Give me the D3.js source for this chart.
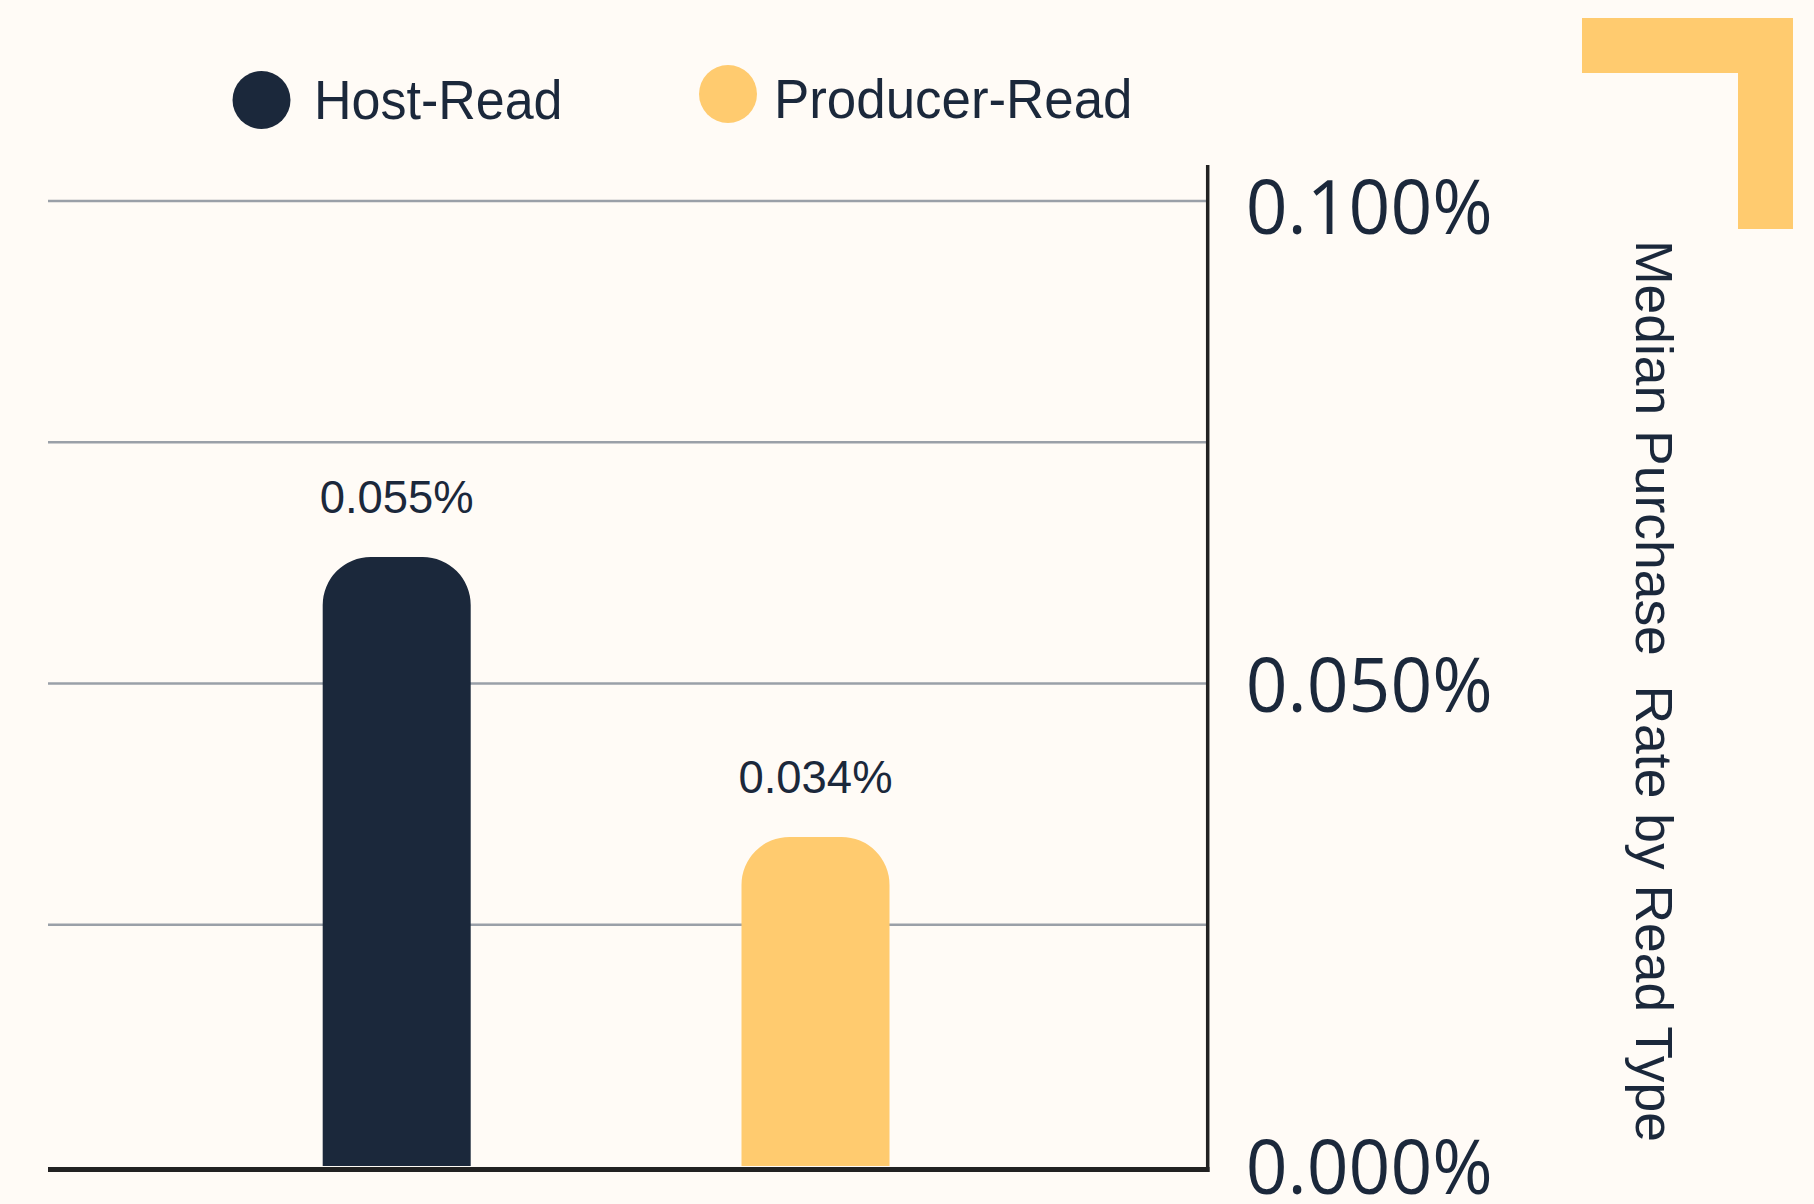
<!DOCTYPE html>
<html><head><meta charset="utf-8">
<script src="https://cdn.jsdelivr.net/npm/d3@7"></script>
<style>html,body{margin:0;padding:0;background:#FFFBF6;} svg{display:block}</style>
</head><body><svg id="chart" width="1814" height="1204"></svg>
<script>
// ---- data ----
const categories = ["Host-Read", "Producer-Read"];
const barValues = [0.063, 0.034];          // bar heights as drawn (percent)
const valueLabels = ["0.055%", "0.034%"];   // printed labels
const tickValues = [0, 0.05, 0.1];
const tickLabels = ["0.000%", "0.050%", "0.100%"];
const gridValues = [0.025, 0.05, 0.075, 0.1];
const seriesColors = ["#1B283B", "#FFCB6F"];
const yTitle = "Median Purchase  Rate by Read Type";

// ---- layout ----
const navy = "#1B283B", yellow = "#FFCB6F", bg = "#FFFBF6";
const svg = d3.select("#chart");
svg.append("rect").attr("width", 1814).attr("height", 1204).attr("fill", bg);

const plotLeft = 48, axisX = 1207.7;
const y = d3.scaleLinear().domain([0, 0.1]).range([1165, 200]);
const x = d3.scaleBand().domain(categories).range([187.3, 1024.9])
  .paddingInner(0.6466).paddingOuter(0.3233);
const color = d3.scaleOrdinal().domain(categories).range(seriesColors);

// gridlines
svg.append("g").selectAll("line").data(gridValues).join("line")
  .attr("x1", plotLeft).attr("x2", axisX)
  .attr("y1", d => y(d) + 1).attr("y2", d => y(d) + 1)
  .attr("stroke", "#9AA0A8").attr("stroke-width", 2.7);

// bars with rounded tops (circular arcs)
function topRounded(x0, y0, w, h, r) {
  r = Math.min(r, w / 2, h);
  return `M${x0},${y0 + h}V${y0 + r}A${r},${r} 0 0 1 ${x0 + r},${y0}H${x0 + w - r}A${r},${r} 0 0 1 ${x0 + w},${y0 + r}V${y0 + h}Z`;
}
const bw = x.bandwidth();
svg.append("g").selectAll("path").data(categories).join("path")
  .attr("d", (c, i) => topRounded(x(c), y(barValues[i]), bw, y(0) + 1 - y(barValues[i]), 48))
  .attr("fill", c => color(c));

// value labels
svg.append("g").selectAll("text").data(categories).join("text")
  .attr("x", c => x(c) + bw / 2)
  .attr("y", (c, i) => y(barValues[i]) - 44)
  .attr("text-anchor", "middle")
  .attr("font-family", "'Liberation Sans', Arial, sans-serif")
  .attr("font-size", 47)
  .attr("fill", navy)
  .attr("textLength", 154).attr("lengthAdjust", "spacingAndGlyphs")
  .text((c, i) => valueLabels[i]);

// axes frame
svg.append("line").attr("x1", plotLeft).attr("x2", axisX + 1.8)
  .attr("y1", 1169.5).attr("y2", 1169.5)
  .attr("stroke", "#222222").attr("stroke-width", 5);
svg.append("line").attr("x1", axisX).attr("x2", axisX)
  .attr("y1", 165).attr("y2", 1172)
  .attr("stroke", "#222222").attr("stroke-width", 3.5);

// right axis labels
const yAxis = d3.axisRight(y).tickValues(tickValues)
  .tickFormat((d, i) => tickLabels[i]).tickSize(0).tickPadding(38);
const ag = svg.append("g").attr("transform", `translate(${axisX},0)`).call(yAxis);
ag.select(".domain").remove();
ag.selectAll("text")
  .attr("font-family", "'Open Sans', sans-serif")
  .attr("font-size", 75)
  .attr("fill", navy)
  .attr("dy", (d, i) => i === 2 ? "0.45em" : "0.38em")
  .attr("textLength", 247).attr("lengthAdjust", "spacingAndGlyphs");

// legend
const legendPos = [{cx: 261.5, cy: 100, tx: 314, ty: 119, len: 248.5},
                   {cx: 728, cy: 94, tx: 774, ty: 118, len: 358.5}];
const lg = svg.append("g").selectAll("g").data(categories).join("g");
lg.append("circle").attr("cx", (c, i) => legendPos[i].cx).attr("cy", (c, i) => legendPos[i].cy)
  .attr("r", 29).attr("fill", c => color(c));
lg.append("text").attr("x", (c, i) => legendPos[i].tx).attr("y", (c, i) => legendPos[i].ty)
  .attr("font-family", "'Liberation Sans', Arial, sans-serif")
  .attr("font-size", 56).attr("fill", navy)
  .attr("textLength", (c, i) => legendPos[i].len).attr("lengthAdjust", "spacingAndGlyphs")
  .text(c => c);

// axis title (rotated)
svg.append("text")
  .attr("transform", "translate(1636,240) rotate(90)")
  .attr("font-family", "'Liberation Sans', Arial, sans-serif")
  .attr("font-size", 51).attr("fill", navy)
  .style("white-space", "pre")
  .attr("textLength", 902).attr("lengthAdjust", "spacingAndGlyphs")
  .text(yTitle);

// corner bracket decoration
svg.append("path")
  .attr("d", "M1582,18H1793V229H1738V73H1582Z")
  .attr("fill", yellow);
</script></body></html>
